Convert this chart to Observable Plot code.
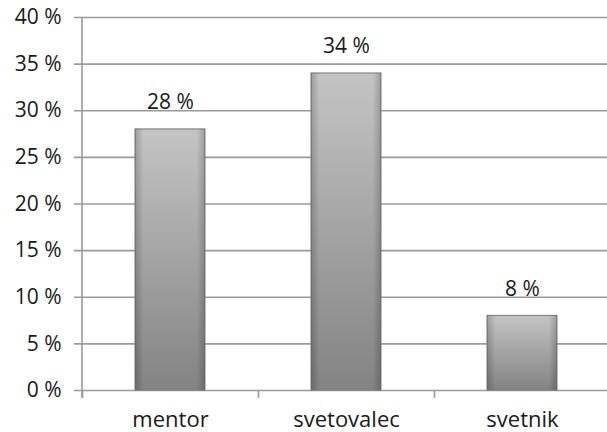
<!DOCTYPE html>
<html>
<head>
<meta charset="utf-8">
<script src="https://cdn.jsdelivr.net/npm/d3@7"></script>
<script src="https://cdn.jsdelivr.net/npm/@observablehq/plot@0.6"></script>
<style>
  html, body { margin: 0; padding: 0; background: #fff; }
  svg { display: block; }
</style>
</head>
<body>
<div id="chart"></div>
<script>
// Share of respondents choosing each term
const categories = ["mentor", "svetovalec", "svetnik"];
const values = [28, 34, 8];
const yTicks = [0, 5, 10, 15, 20, 25, 30, 35, 40];

const data = categories.map((c, i) => ({cat: categories[i], value: values[i]}));

const W = 607, H = 432;
const xScale = {domain: categories, range: [82, 610], paddingInner: 0.6, paddingOuter: 0.3, label: null};
const step = (xScale.range[1] - xScale.range[0]) / categories.length;
const font = "'Open Sans', Lato, sans-serif";

const chart = Plot.plot({
  width: W,
  height: H,
  marginLeft: 82,
  marginRight: 0,
  marginTop: 17,
  marginBottom: 42,
  style: {fontFamily: font, fontSize: "21px", color: "#1a1a1a", background: "#fff", overflow: "visible"},
  x: xScale,
  y: {domain: [0, 40], label: null},
  marks: [
    Plot.ruleY(yTicks, {stroke: "#9a9a9a", strokeWidth: 1.6, insetLeft: -8}),
    Plot.axisY(yTicks, {tickSize: 0, tickPadding: 21, tickFormat: d => d + " %", fontSize: 21, fill: "#1a1a1a", label: null}),
    // category boundary ticks under the baseline
    Plot.ruleX(categories, {x: d => d, y1: 0, y2: 0, insetBottom: -8, dx: -step / 2, stroke: "#9a9a9a", strokeWidth: 1.6}),
    Plot.ruleX(categories.slice(-1), {x: d => d, y1: 0, y2: 0, insetBottom: -8, dx: step / 2, stroke: "#9a9a9a", strokeWidth: 1.6}),
    Plot.axisX({tickSize: 0, tickPadding: 21, fontSize: 22, fill: "#1a1a1a", label: null}),
    Plot.barY(data, {x: "cat", y: "value", fill: "url(#barShade)", stroke: "#7a7a7a", strokeWidth: 1}),
    Plot.barY(data, {x: "cat", y: "value", fill: "url(#barEdge)"}),
    Plot.text(data, {x: "cat", y: "value", text: d => d.value + " %", dy: -27, fontSize: 21, fill: "#1a1a1a"})
  ]
});

// vertical axis line
const svg = d3.select(chart);
const yS = chart.scale("y");
svg.append("line")
  .attr("x1", 82).attr("x2", 82)
  .attr("y1", yS.apply(40)).attr("y2", yS.apply(0) + 8)
  .attr("stroke", "#9a9a9a").attr("stroke-width", 1.6);

// bar shading gradients
const defs = svg.insert("defs", ":first-child");
const g1 = defs.append("linearGradient").attr("id", "barShade").attr("x1", 0).attr("x2", 0).attr("y1", 0).attr("y2", 1);
g1.append("stop").attr("offset", "0%").attr("stop-color", "#c4c4c4");
g1.append("stop").attr("offset", "100%").attr("stop-color", "#838383");
const g2 = defs.append("linearGradient").attr("id", "barEdge").attr("x1", 0).attr("x2", 1).attr("y1", 0).attr("y2", 0);
g2.append("stop").attr("offset", "0%").attr("stop-color", "#000").attr("stop-opacity", 0.2);
g2.append("stop").attr("offset", "12%").attr("stop-color", "#000").attr("stop-opacity", 0);
g2.append("stop").attr("offset", "88%").attr("stop-color", "#000").attr("stop-opacity", 0);
g2.append("stop").attr("offset", "100%").attr("stop-color", "#000").attr("stop-opacity", 0.2);

document.getElementById("chart").appendChild(chart);
</script>
</body>
</html>
